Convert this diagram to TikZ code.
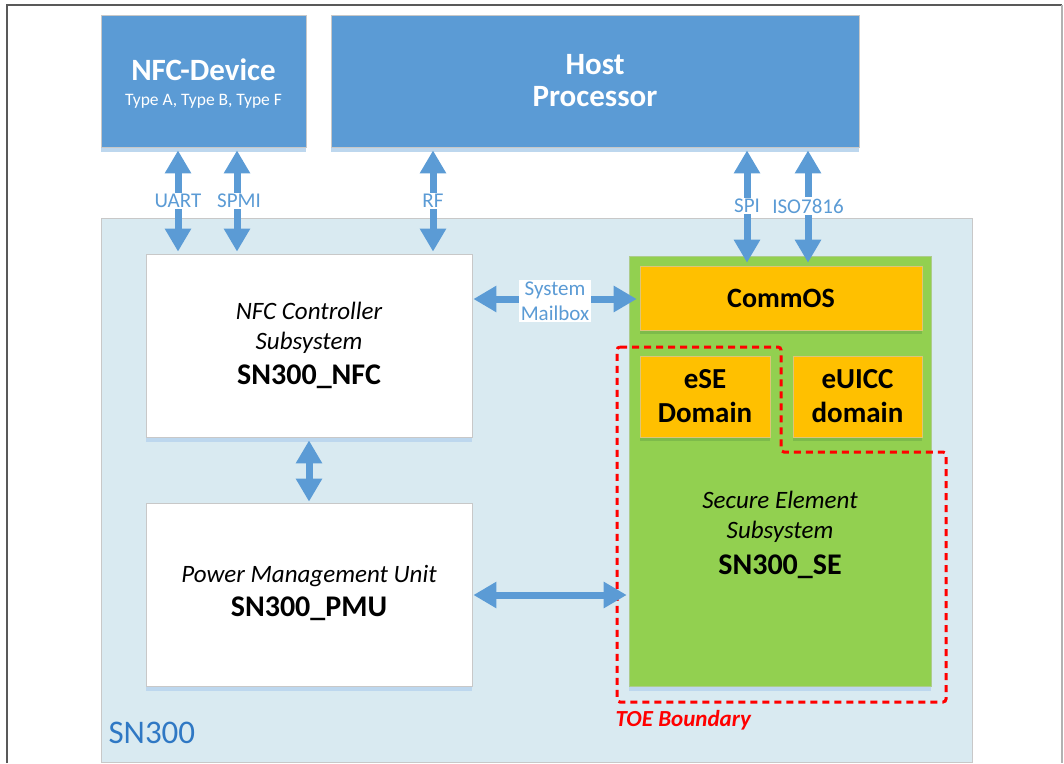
\documentclass[tikz,border=0pt]{standalone}
\usepackage{fontspec}
\setmainfont{Carlito}
\usetikzlibrary{arrows.meta,shadows}
\definecolor{boxblue}{HTML}{5B9BD5}
\definecolor{arrowblue}{HTML}{5B9BD5}
\definecolor{sn300bg}{HTML}{D9EAF1}
\definecolor{shadowblue}{HTML}{BDD7EE}
\definecolor{segreen}{HTML}{92D050}
\definecolor{darkgreen}{HTML}{7DBB4A}
\definecolor{orange}{HTML}{FFC000}
\definecolor{sntext}{HTML}{2F78C4}
\definecolor{toered}{HTML}{FF0000}
\definecolor{edgegray}{HTML}{C8C8C8}
\newcommand{\fs}[1]{\fontsize{#1}{#1}\selectfont}
\begin{document}
\begin{tikzpicture}[x=1pt,y=-1pt,
  bluebox/.style={draw=edgegray,line width=0.8pt,fill=boxblue,text=white,align=center,inner sep=0pt,
    general shadow={fill=shadowblue,shadow yshift=-5pt}},
  whitebox/.style={draw=edgegray,line width=0.8pt,fill=white,align=center,inner sep=0pt,
    general shadow={fill=shadowblue,shadow yshift=-5pt}},
  orangebox/.style={draw=edgegray!60!orange,line width=0.6pt,fill=orange,align=center,inner sep=0pt,
    general shadow={fill=darkgreen,shadow yshift=-4pt}},
  bigarrow/.style={draw=arrowblue,line width=7pt,
    {Triangle[width=25pt,length=23pt]}-{Triangle[width=25pt,length=23pt]}},
  arrowlabel/.style={fill=white,text=arrowblue,inner sep=1.5pt,font=\fs{21},align=center},
  boxtitle/.style={font=\bfseries\fs{30}},
  subtitle/.style={font=\itshape\fs{25}},
]
\useasboundingbox (0,0) rectangle (1064,763);
% frame
\draw[draw=black!65,line width=1.2pt] (7,763) -- (7,5) -- (1062,5);
\draw[draw=black!30,line width=1.2pt] (1062,5) -- (1062,763);

% SN300 region
\node[draw=edgegray,line width=0.8pt,fill=sn300bg,minimum width=871pt,minimum height=544pt,inner sep=0pt] (sn300) at (536.5,490) {};
\node[anchor=west,text=sntext,font=\fs{33}] (sn300lbl) at (105,733) {SN300};

% top boxes
\node[bluebox,minimum width=205pt,minimum height=132pt] (nfcdev) at (203.5,81) {};
\node[text=white,font=\bfseries\fs{31}] (nfcdevt) at (203.5,70) {NFC-Device};
\node[text=white,font=\fs{17.5}] (nfcdevs) at (203.5,101) {Type A, Type B, Type F};
\node[bluebox,minimum width=528pt,minimum height=132pt,font=\bfseries\fs{31},
  execute at begin node=\setlength{\baselineskip}{32pt}] (host) at (595,81) {Host\\Processor};

% inner white boxes
\node[whitebox,minimum width=326pt,minimum height=183pt] (nfc) at (309,345.5) {};
\node[subtitle] (nfct1) at (309,311) {NFC Controller};
\node[subtitle] (nfct2) at (309,343) {Subsystem};
\node[boxtitle] (nfct3) at (309,377) {SN300\_NFC};

\node[whitebox,minimum width=326pt,minimum height=183pt] (pmu) at (309,594.5) {};
\node[subtitle] (pmut1) at (309,576) {Power Management Unit};
\node[boxtitle] (pmut2) at (309,609) {SN300\_PMU};

% secure element
\node[draw=edgegray!50!segreen,line width=0.6pt,fill=segreen,minimum width=302pt,minimum height=430pt,inner sep=0pt,
  general shadow={fill=shadowblue,shadow yshift=-5pt}] (se) at (780,471) {};
\node[subtitle] (set1) at (780,500) {Secure Element};
\node[subtitle] (set2) at (780,532) {Subsystem};
\node[boxtitle] (set3) at (780,567) {SN300\_SE};

\node[orangebox,minimum width=282pt,minimum height=64pt,font=\bfseries\fs{28}] (commos) at (781,298) {CommOS};
\node[orangebox,minimum width=130pt,minimum height=81pt,font=\bfseries\fs{29},
  execute at begin node=\setlength{\baselineskip}{34pt}] (ese) at (705,396.5) {eSE\\Domain};
\node[orangebox,minimum width=129pt,minimum height=81pt,font=\bfseries\fs{29},
  execute at begin node=\setlength{\baselineskip}{34pt}] (euicc) at (857.5,396.5) {eUICC\\domain};

% TOE boundary
\draw[toered,line width=3pt,dash pattern=on 7pt off 5pt,rounded corners=3pt]
  (617,347) -- (781,347) -- (781,452) -- (946,452) -- (946,702) -- (617,702) -- cycle;
\node[anchor=west,text=toered,font=\bfseries\itshape\fs{23}] (toe) at (612,720) {TOE Boundary};

% connector x positions
\coordinate (xuart) at (178,0);
\coordinate (xspmi) at (237,0);
\coordinate (xrf) at (433,0);
\coordinate (xspi) at (747,0);
\coordinate (xiso) at (808,0);
\coordinate (ymb) at (0,299);
\coordinate (ypmu) at (0,595);

% arrows
\draw[bigarrow,shorten <=3pt,shorten >=2pt] (nfcdev.south -| xuart) -- (nfc.north -| xuart);
\draw[bigarrow,shorten <=3pt,shorten >=2pt] (nfcdev.south -| xspmi) -- (nfc.north -| xspmi);
\draw[bigarrow,shorten <=3pt,shorten >=2pt] (host.south -| xrf) -- (nfc.north -| xrf);
\draw[bigarrow,shorten <=3pt,shorten >=-7pt] (host.south -| xspi) -- (se.north -| xspi);
\draw[bigarrow,shorten <=3pt,shorten >=-7pt] (host.south -| xiso) -- (se.north -| xiso);
\draw[bigarrow,shorten <=1pt,shorten >=-8pt] (nfc.east |- ymb) -- (se.west |- ymb);
\draw[bigarrow,shorten <=3pt,shorten >=1pt] (nfc.south) -- (pmu.north);
\draw[bigarrow,shorten <=1pt,shorten >=2pt] (pmu.east |- ypmu) -- (se.west |- ypmu);

% arrow labels
\node[arrowlabel] (luart) at (178,201) {UART};
\node[arrowlabel] (lspmi) at (239,201) {SPMI};
\node[arrowlabel] (lrf) at (433,201) {RF};
\node[arrowlabel] (lspi) at (747,206) {SPI};
\node[arrowlabel] (liso) at (808,206) {ISO7816};
\node[arrowlabel,execute at begin node=\setlength{\baselineskip}{25pt}] (lmb) at (555,301) {System\\Mailbox};
\end{tikzpicture}
\end{document}
